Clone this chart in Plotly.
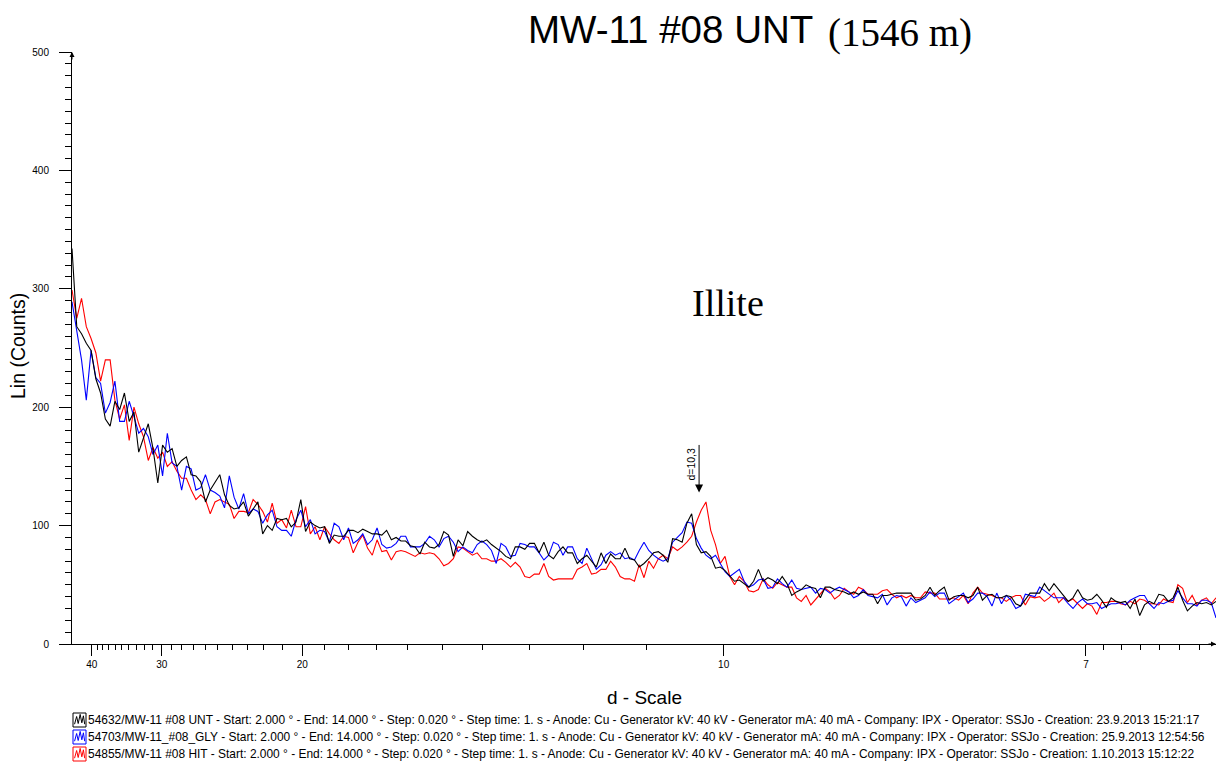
import math
import plotly.graph_objects as go

# ---------------- data ----------------
WAVELENGTH = 1.5406          # Cu K-alpha (Angstrom)
START_2THETA = 2.0
STEP_2THETA = 0.05
N_POINTS = 241
two_theta = [round(START_2THETA + STEP_2THETA * i, 2) for i in range(N_POINTS)]

unt_counts = [
    334, 268, 262, 254, 248, 224, 212, 190, 184, 205,
    198, 212, 188, 196, 162, 175, 186, 165, 136, 168,
    162, 165, 150, 155, 158, 143, 142, 137, 120, 130,
    136, 143, 126, 117, 114, 115, 120, 108, 114, 120,
    93, 100, 96, 106, 105, 106, 99, 103, 122, 95,
    103, 100, 98, 99, 85, 92, 91, 91, 96, 96,
    94, 97, 95, 93, 93, 92, 96, 88, 90, 87,
    87, 83, 82, 76, 86, 82, 81, 84, 95, 92,
    74, 88, 83, 95, 91, 88, 86, 88, 84, 81,
    78, 74, 72, 82, 82, 80, 85, 85, 77, 86,
    75, 72, 78, 82, 77, 77, 68, 72, 75, 70,
    65, 77, 68, 76, 72, 72, 81, 72, 71, 65,
    68, 72, 77, 78, 75, 69, 89, 88, 86, 102,
    110, 84, 77, 78, 74, 64, 65, 62, 57, 53,
    54, 51, 48, 53, 63, 53, 56, 54, 51, 57,
    51, 41, 44, 46, 50, 48, 47, 39, 48, 48,
    46, 45, 44, 42, 44, 42, 44, 42, 42, 34,
    41, 41, 42, 43, 43, 43, 43, 37, 38, 41,
    48, 41, 45, 48, 37, 40, 41, 41, 39, 41,
    48, 37, 41, 42, 39, 39, 41, 40, 34, 32,
    37, 43, 43, 43, 51, 45, 51, 46, 41, 36,
    39, 46, 39, 37, 38, 42, 37, 31, 39, 36,
    35, 36, 30, 38, 24, 33, 36, 34, 42, 41,
    36, 39, 48, 37, 28, 32, 35, 34, 35, 33,
    36,
]

gly_counts = [
    289, 265, 240, 206, 248, 225, 220, 195, 204, 222,
    188, 188, 205, 192, 178, 182, 175, 160, 168, 142,
    178, 153, 150, 130, 150, 148, 130, 132, 143, 130,
    128, 125, 115, 142, 124, 114, 127, 110, 114, 112,
    102, 109, 113, 99, 96, 96, 91, 105, 113, 99,
    105, 93, 96, 95, 86, 102, 99, 88, 98, 85,
    88, 93, 84, 88, 98, 84, 81, 82, 85, 91,
    91, 82, 82, 82, 85, 91, 88, 82, 89, 91,
    86, 78, 82, 79, 77, 84, 87, 84, 79, 68,
    85, 82, 74, 75, 85, 84, 82, 82, 77, 71,
    75, 86, 84, 75, 82, 82, 72, 68, 81, 72,
    63, 67, 75, 78, 75, 77, 72, 73, 71, 79,
    86, 79, 75, 72, 70, 72, 86, 90, 94, 103,
    102, 89, 81, 75, 72, 75, 68, 61, 57, 60,
    63, 53, 48, 50, 54, 55, 47, 48, 55, 51,
    48, 54, 47, 46, 47, 48, 43, 47, 46, 43,
    46, 48, 46, 44, 39, 41, 46, 41, 40, 39,
    42, 33, 39, 41, 40, 32, 39, 35, 37, 39,
    44, 40, 43, 43, 34, 37, 40, 43, 35, 38,
    43, 43, 40, 32, 43, 34, 41, 37, 30, 32,
    42, 41, 40, 48, 45, 42, 39, 39, 39, 34,
    30, 35, 38, 34, 34, 35, 30, 32, 34, 34,
    35, 33, 37, 39, 41, 41, 34, 30, 35, 34,
    36, 37, 45, 39, 34, 34, 32, 37, 37, 35,
    22,
]

hit_counts = [
    299, 275, 292, 268, 258, 246, 222, 240, 240, 206,
    190, 202, 172, 200, 186, 175, 155, 166, 157, 162,
    150, 154, 146, 140, 140, 130, 122, 126, 122, 110,
    120, 122, 120, 118, 106, 112, 112, 111, 122, 118,
    112, 103, 119, 102, 105, 98, 113, 99, 99, 116,
    93, 99, 88, 99, 93, 88, 85, 91, 90, 77,
    86, 92, 81, 75, 88, 78, 79, 71, 78, 79,
    78, 76, 74, 77, 76, 77, 76, 72, 66, 68,
    72, 82, 81, 78, 75, 77, 72, 72, 70, 70,
    72, 69, 65, 69, 65, 57, 56, 59, 59, 68,
    57, 54, 55, 55, 55, 55, 63, 65, 68, 59,
    60, 63, 63, 70, 65, 57, 55, 55, 53, 67,
    56, 70, 64, 72, 75, 72, 82, 79, 82, 86,
    91, 103, 113, 120, 96, 84, 68, 74, 57, 50,
    57, 53, 45, 44, 46, 55, 50, 47, 52, 50,
    48, 48, 39, 36, 41, 33, 38, 42, 47, 44,
    38, 41, 47, 44, 42, 48, 46, 42, 42, 42,
    45, 46, 42, 39, 41, 39, 41, 39, 39, 44,
    43, 43, 38, 38, 38, 39, 37, 41, 34, 43,
    48, 43, 42, 41, 39, 39, 36, 39, 41, 41,
    33, 40, 39, 40, 36, 39, 43, 35, 39, 36,
    38, 34, 30, 34, 32, 25, 35, 35, 36, 36,
    34, 33, 36, 34, 38, 37, 34, 34, 33, 38,
    36, 35, 50, 47, 35, 41, 33, 37, 39, 34,
    39,
]

major_d = [40, 30, 20, 10, 7]
major_labels = ["40", "30", "20", "10", "7"]
minor_d = (list(range(39, 30, -1)) + list(range(29, 20, -1)) + list(range(19, 10, -1))
           + [6.9, 6.8, 6.7, 6.6, 6.5, 6.4])

legend_texts = [
    "54632/MW-11 #08 UNT - Start: 2.000 \u00b0 - End: 14.000 \u00b0 - Step: 0.020 \u00b0 - Step time: 1. s - Anode: Cu - Generator kV: 40 kV - Generator mA: 40 mA - Company: IPX - Operator: SSJo - Creation: 23.9.2013 15:21:17",
    "54703/MW-11_#08_GLY - Start: 2.000 \u00b0 - End: 14.000 \u00b0 - Step: 0.020 \u00b0 - Step time: 1. s - Anode: Cu - Generator kV: 40 kV - Generator mA: 40 mA - Company: IPX - Operator: SSJo - Creation: 25.9.2013 12:54:56",
    "54855/MW-11 #08 HIT - Start: 2.000 \u00b0 - End: 14.000 \u00b0 - Step: 0.020 \u00b0 - Step time: 1. s - Anode: Cu - Generator kV: 40 kV - Generator mA: 40 mA - Company: IPX - Operator: SSJo - Creation: 1.10.2013 15:12:22",
]
peak_d = 10.3

# ---------------- helpers ----------------
def d_to_2theta(d):
    return 2 * math.degrees(math.asin(WAVELENGTH / (2 * d)))

W, H = 1223, 763
ML, MR, MT, MB = 72, 7, 52, 119
PW, PH = W - ML - MR, H - MT - MB

def px(x):  # pixel x -> paper
    return (x - ML) / PW

def py(y):  # pixel y -> paper
    return (H - MB - y) / PH

SANS = "Arial, Liberation Sans, sans-serif"
SERIF = "Times New Roman, Liberation Serif, serif"

fig = go.Figure()
series = [
    ("HIT", hit_counts, "#ff0000"),
    ("GLY", gly_counts, "#0000ff"),
    ("UNT", unt_counts, "#000000"),
]
for name, vals, col in series:
    fig.add_trace(go.Scatter(x=two_theta, y=vals, mode="lines", name=name,
                             line=dict(color=col, width=1.1), hoverinfo="skip"))

fig.update_layout(
    width=W, height=H, margin=dict(l=ML, r=MR, t=MT, b=MB),
    plot_bgcolor="white", paper_bgcolor="white", showlegend=False,
    font=dict(family=SANS, color="black", size=10),
)
fig.update_xaxes(
    range=[2, 14], showgrid=False, zeroline=False,
    showline=True, linecolor="black", linewidth=1,
    ticks="outside", ticklen=11, tickwidth=1, tickcolor="black",
    tickvals=[d_to_2theta(d) for d in major_d], ticktext=major_labels,
    tickfont=dict(size=10, family=SANS),
    minor=dict(tickvals=[d_to_2theta(d) for d in minor_d], ticks="outside",
               ticklen=5, tickwidth=1, tickcolor="black", showgrid=False),
)
fig.update_yaxes(
    range=[0, 500], showgrid=False, zeroline=False,
    showline=True, linecolor="black", linewidth=1,
    ticks="outside", ticklen=12, tickwidth=1, tickcolor="black",
    tick0=0, dtick=100, tickfont=dict(size=10, family=SANS),
    ticklabelstandoff=8,
    minor=dict(dtick=10, ticks="outside", ticklen=6, tickwidth=1,
               tickcolor="black", showgrid=False),
)

ann = []
# title
ann.append(dict(text="MW-11 #08 UNT", x=px(815), y=py(29), xref="paper", yref="paper",
                xanchor="right", yanchor="middle", showarrow=False,
                font=dict(family=SANS, size=38.5, color="black")))
ann.append(dict(text="(1546 m)", x=px(826), y=py(33), xref="paper", yref="paper",
                xanchor="left", yanchor="middle", showarrow=False,
                font=dict(family=SERIF, size=39, color="black")))
# Illite
ann.append(dict(text="Illite", x=px(728), y=py(303), xref="paper", yref="paper",
                xanchor="center", yanchor="middle", showarrow=False,
                font=dict(family=SERIF, size=38, color="black")))
# axis titles
ann.append(dict(text="d - Scale", x=px(644), y=py(697), xref="paper", yref="paper",
                xanchor="center", yanchor="middle", showarrow=False,
                font=dict(family=SANS, size=19, color="black")))
ann.append(dict(text="Lin (Counts)", x=px(18), y=py(346), xref="paper", yref="paper",
                xanchor="center", yanchor="middle", showarrow=False, textangle=-90,
                font=dict(family=SANS, size=19.5, color="black")))
# peak marker
ann.append(dict(text="", x=d_to_2theta(peak_d), y=128, xref="x", yref="y",
                showarrow=True, ax=0, ay=-49, arrowhead=2, arrowsize=1.6,
                arrowwidth=1, arrowcolor="black"))
ann.append(dict(text="d=10,3", x=d_to_2theta(peak_d), y=128, xref="x", yref="y",
                showarrow=False, textangle=-90, xshift=-8, yshift=28,
                font=dict(family=SANS, size=10.5, color="black")))
# axis arrowheads
ann.append(dict(text="", x=2, y=500, xref="x", yref="y", showarrow=True, ax=0, ay=9,
                arrowhead=2, arrowsize=1, arrowwidth=1, arrowcolor="black"))
ann.append(dict(text="", x=14, y=0, xref="x", yref="y", showarrow=True, ax=-9, ay=0,
                arrowhead=2, arrowsize=1, arrowwidth=1, arrowcolor="black"))

shapes = []
colors = ["#000000", "#0000ff", "#ff0000"]
for k, (txt, col) in enumerate(zip(legend_texts, colors)):
    yc = 720 + 17 * k
    ann.append(dict(text=txt, x=px(86), y=py(yc), xref="paper", yref="paper",
                    xanchor="left", yanchor="middle", showarrow=False,
                    font=dict(family=SANS, size=11.95, color="black")))
    x0, x1, y0, y1 = 73, 86, yc - 7, yc + 7
    shapes.append(dict(type="rect", xref="paper", yref="paper",
                       x0=px(x0), x1=px(x1), y0=py(y1), y1=py(y0),
                       line=dict(color=col, width=1), fillcolor="rgba(0,0,0,0)"))
    zz = [(0.12, 0.8), (0.28, 0.25), (0.4, 0.75), (0.55, 0.1), (0.68, 0.7), (0.8, 0.2), (0.9, 0.8)]
    path = ""
    for j, (fx, fy) in enumerate(zz):
        X = px(x0 + fx * (x1 - x0))
        Y = py(y0 + fy * (y1 - y0))
        path += ("M" if j == 0 else "L") + f"{X},{Y} "
    shapes.append(dict(type="path", xref="paper", yref="paper", path=path.strip(),
                       line=dict(color=col, width=1)))

fig.update_layout(annotations=ann, shapes=shapes)
fig.write_html("out.html")
